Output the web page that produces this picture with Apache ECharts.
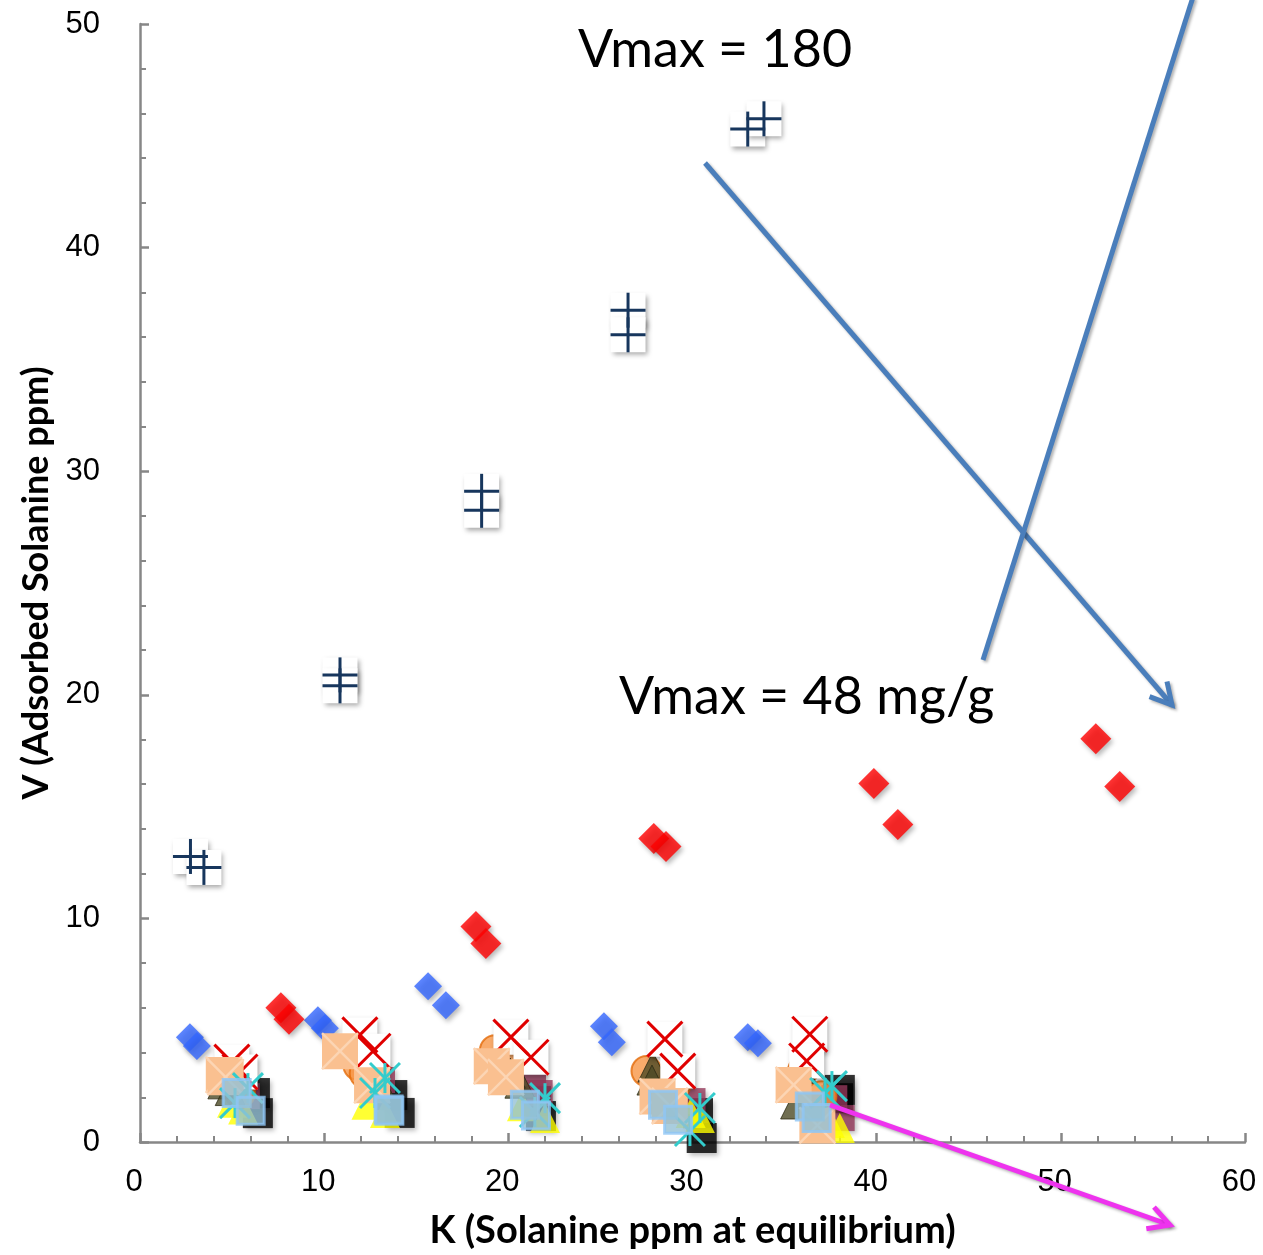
<!DOCTYPE html>
<html>
<head>
<meta charset="utf-8">
<script src="https://cdn.jsdelivr.net/npm/echarts@6/dist/echarts.min.js"></script>
<style>
  html, body { margin: 0; padding: 0; background: #fff; }
  #chart { width: 1263px; height: 1255px; }
</style>
</head>
<body>
<div id="chart"></div>
<script>
// Isotherm samples: K (ppm at equilibrium) vs V (adsorbed ppm), two replicates per level
const navyPlus = [[2.74,12.77],[3.47,12.28],[10.86,20.89],[10.86,20.4],[18.55,29.1],[18.55,28.25],[26.5,37.2],[26.5,36.1],[33.0,45.3],[33.88,45.76]];
const redDiamond = [[7.65,6.0],[8.09,5.49],[18.24,9.64],[18.78,8.88],[27.9,13.57],[28.56,13.21],[39.85,16.03],[41.15,14.2],[51.9,18.04],[53.2,15.9]];
const blueDiamond = [[2.71,4.69],[3.09,4.29],[9.66,5.45],[10.04,5.09],[15.64,6.96],[16.61,6.12],[25.19,5.18],[25.62,4.46],[33.0,4.69],[33.55,4.42]];
const blackSquare = [[6.24,2.19],[6.4,1.29],[13.7,2.1],[14.1,1.3],[21.5,1.83],[21.77,1.16],[30.3,1.29],[30.5,0.18],[38.0,2.33],[37.9,1.96]];
const maroonSquare = [[5.43,2.41],[5.8,2.05],[13.14,2.77],[12.76,3.08],[21.34,2.54],[21.7,2.19],[29.15,2.77],[30.0,1.83],[38.1,1.07],[37.7,1.96]];
const yellowTri = [[5.0,1.75],[5.6,1.45],[12.3,1.67],[13.3,1.3],[20.74,1.6],[21.99,1.07],[30.4,1.07],[29.9,1.3],[38.0,0.63],[37.46,0.85]];
const orangeDot = [[5.16,2.63],[5.43,2.19],[11.85,3.44],[12.2,3.08],[19.27,4.1],[19.8,3.6],[27.5,3.17],[29.1,2.6],[37.0,2.05],[36.0,3.2]];
const oliveTri = [[4.5,2.6],[4.9,2.3],[12.49,3.39],[13.0,2.63],[20.63,2.63],[20.1,3.08],[27.85,3.35],[27.8,2.77],[35.9,3.3],[35.6,1.7]];
const redCross = [[4.99,3.57],[5.43,3.13],[11.94,4.79],[12.65,4.06],[20.14,4.69],[21.23,3.79],[28.5,4.6],[29.2,3.17],[36.37,4.82],[36.2,3.62]];
const peachBox = [[4.55,3.0],[4.65,2.9],[10.86,4.06],[12.6,2.54],[19.1,3.39],[19.87,2.9],[28.1,2.04],[28.77,1.61],[35.49,2.55],[36.78,0.74]];
const cyanStar = [[5.16,1.74],[5.86,2.41],[12.76,2.19],[13.3,2.86],[21.44,1.34],[21.99,1.96],[29.86,0.49],[30.4,1.52],[37.57,2.5],[37.2,2.19]];
const lightBlueSquare = [[5.25,2.19],[6.01,1.4],[13.5,1.45],[13.54,1.4],[20.9,1.67],[21.5,1.19],[28.4,1.67],[29.22,1.0],[36.37,1.59],[36.74,1.07]];

const xTicks = { min: 0, max: 60, step: 10 };
const yTicks = { min: 0, max: 50, step: 10 };

const FONT = 'Lato, "Noto Sans", sans-serif';
const TICK_FONT = '"Liberation Sans", Arial, sans-serif';
const SHADOW = { shadowBlur: 5, shadowOffsetX: 2, shadowOffsetY: 3, shadowColor: 'rgba(0,0,0,0.35)' };

// Square backing of a marker (white or coloured, optional soft shadow)
function boxOnly(size, fill, shadow) {
  return function (params, api) {
    const c = api.coord([api.value(0), api.value(1)]);
    const h = size / 2;
    return {
      type: 'rect',
      shape: { x: c[0] - h, y: c[1] - h, width: size, height: size },
      style: Object.assign({ fill: fill }, shadow ? SHADOW : {})
    };
  };
}

// Line glyph of a marker: plus, cross or asterisk
function glyphOnly(size, stroke, lw, glyph) {
  return function (params, api) {
    const c = api.coord([api.value(0), api.value(1)]);
    const h = size / 2;
    const kids = [];
    const seg = (x1, y1, x2, y2) => kids.push({
      type: 'line',
      shape: { x1: c[0] + x1, y1: c[1] + y1, x2: c[0] + x2, y2: c[1] + y2 },
      style: { stroke: stroke, lineWidth: lw }
    });
    if (glyph === 'plus' || glyph === 'star') seg(0, -h, 0, h);
    if (glyph === 'plus') seg(-h, 0, h, 0);
    if (glyph === 'cross' || glyph === 'star') {
      seg(-h, -h, h, h);
      seg(-h, h, h, -h);
    }
    return { type: 'group', children: kids };
  };
}

// Coloured square with its own cross drawn on top (one element per point)
function filledCross(size, fill, stroke, lw) {
  const box = boxOnly(size, fill, false);
  const glyph = glyphOnly(size, stroke, lw, 'cross');
  return function (params, api) {
    return { type: 'group', children: [box(params, api), glyph(params, api)] };
  };
}

function customSeries(name, data, render, z) {
  return { name, type: 'custom', data, renderItem: render, clip: false, z: z, silent: true };
}

function scatterSeries(name, data, symbol, size, itemStyle, z) {
  return {
    name, type: 'scatter', data, symbol, symbolSize: size, clip: false, z: z,
    itemStyle: itemStyle, emphasis: { disabled: true }, silent: true
  };
}

const chart = echarts.init(document.getElementById('chart'), null, { renderer: 'canvas' });

const axisCommon = {
  type: 'value',
  axisLine: { show: true, lineStyle: { color: '#878787', width: 2.5 } },
  axisTick: { show: true, inside: true, length: 9, lineStyle: { color: '#878787', width: 2.5 } },
  minorTick: { show: true, splitNumber: 5, length: 6, lineStyle: { color: '#878787', width: 2 } },
  splitLine: { show: false },
  minorSplitLine: { show: false }
};

// Annotation arrows (open arrowheads)
function arrowHead(x1, y1, x2, y2, len, spread) {
  const a = Math.atan2(y2 - y1, x2 - x1);
  return [
    [x2 - len * Math.cos(a - spread), y2 - len * Math.sin(a - spread)],
    [x2, y2],
    [x2 - len * Math.cos(a + spread), y2 - len * Math.sin(a + spread)]
  ];
}
const lineShadow = { shadowBlur: 3, shadowOffsetX: 2, shadowOffsetY: 2, shadowColor: 'rgba(0,0,0,0.3)' };
const BLUE = '#4a7ebb', MAGENTA = '#ee33ee';

chart.setOption({
  animation: false,
  backgroundColor: '#ffffff',
  grid: { left: 140, right: 18, top: 24, bottom: 111, containLabel: false },
  xAxis: Object.assign({}, axisCommon, {
    min: xTicks.min, max: xTicks.max, interval: xTicks.step,
    axisLabel: { margin: 25, fontSize: 31, color: '#000', fontFamily: TICK_FONT, padding: [0, 12, 0, 0] },
    name: 'K (Solanine ppm at equilibrium)',
    nameLocation: 'middle', nameGap: 70,
    nameTextStyle: { fontFamily: FONT, fontWeight: 'bold', fontSize: 38, color: '#000' }
  }),
  yAxis: Object.assign({}, axisCommon, {
    min: yTicks.min, max: yTicks.max, interval: yTicks.step,
    axisLabel: { margin: 40, fontSize: 31, color: '#000', fontFamily: TICK_FONT },
    name: 'V (Adsorbed Solanine ppm)',
    nameLocation: 'middle', nameGap: 84,
    nameTextStyle: { fontFamily: FONT, fontWeight: 'bold', fontSize: 36, color: '#000' }
  }),
  series: [
    customSeries('Plus box', navyPlus, boxOnly(35, '#ffffff', true), 2),
    customSeries('Plus', navyPlus, glyphOnly(35, '#17365d', 3, 'plus'), 2),
    scatterSeries('Blue diamond', blueDiamond, 'diamond', 28, Object.assign({ color: '#3366ff' }, SHADOW), 3),
    scatterSeries('Red diamond', redDiamond, 'diamond', 31, Object.assign({ color: '#ff0000' }, SHADOW), 3),
    scatterSeries('Black square', blackSquare, 'rect', 30, Object.assign({ color: '#000000' }, SHADOW), 4),
    scatterSeries('Maroon square', maroonSquare, 'rect', 26, Object.assign({ color: '#94385a' }, SHADOW), 4),
    scatterSeries('Yellow triangle', yellowTri, 'triangle', 30, { color: '#ffff00' }, 4),
    scatterSeries('Orange circle', orangeDot, 'circle', 30, { color: '#f79646', borderColor: '#e46c0a', borderWidth: 2 }, 4),
    scatterSeries('Olive triangle', oliveTri, 'triangle', 30, { color: '#4c4a26', borderColor: '#2e2c14', borderWidth: 1 }, 4),
    customSeries('Cross box', redCross, boxOnly(35, '#ffffff', true), 5),
    customSeries('Cross', redCross, glyphOnly(35, '#e00000', 3, 'cross'), 5),
    customSeries('Peach', peachBox, filledCross(36, '#fac090', '#fcd5b4', 2.5), 5),
    customSeries('Star', cyanStar, glyphOnly(30, '#33cccc', 3, 'star'), 6),
    scatterSeries('Light blue square', lightBlueSquare, 'rect', 27, { color: '#93c0d6', borderColor: '#8ec5f5', borderWidth: 3 }, 6)
  ],
  graphic: [
    { type: 'text', x: 578, y: 50, z: 100, style: { text: 'Vmax = 180', fontFamily: FONT, fontSize: 52, fill: '#000', verticalAlign: 'middle' } },
    { type: 'text', x: 619, y: 697, z: 100, style: { text: 'Vmax = 48 mg/g', fontFamily: FONT, fontSize: 52, fill: '#000', verticalAlign: 'middle' } },
    { type: 'polyline', z: 100, shape: { points: [[705, 163], [1172, 705]] }, style: Object.assign({ stroke: BLUE, lineWidth: 5, fill: null }, lineShadow) },
    { type: 'polyline', z: 100, shape: { points: arrowHead(705, 163, 1172, 705, 24, 0.5) }, style: Object.assign({ stroke: BLUE, lineWidth: 5, fill: null }, lineShadow) },
    { type: 'polyline', z: 100, shape: { points: [[983, 660], [1193, -3]] }, style: Object.assign({ stroke: BLUE, lineWidth: 5, fill: null }, lineShadow) },
    { type: 'polyline', z: 100, shape: { points: [[830, 1105], [1170, 1225]] }, style: Object.assign({ stroke: MAGENTA, lineWidth: 5, fill: null }, lineShadow) },
    { type: 'polyline', z: 100, shape: { points: arrowHead(830, 1105, 1170, 1225, 24, 0.5) }, style: Object.assign({ stroke: MAGENTA, lineWidth: 5, fill: null }, lineShadow) }
  ]
});
</script>
</body>
</html>
